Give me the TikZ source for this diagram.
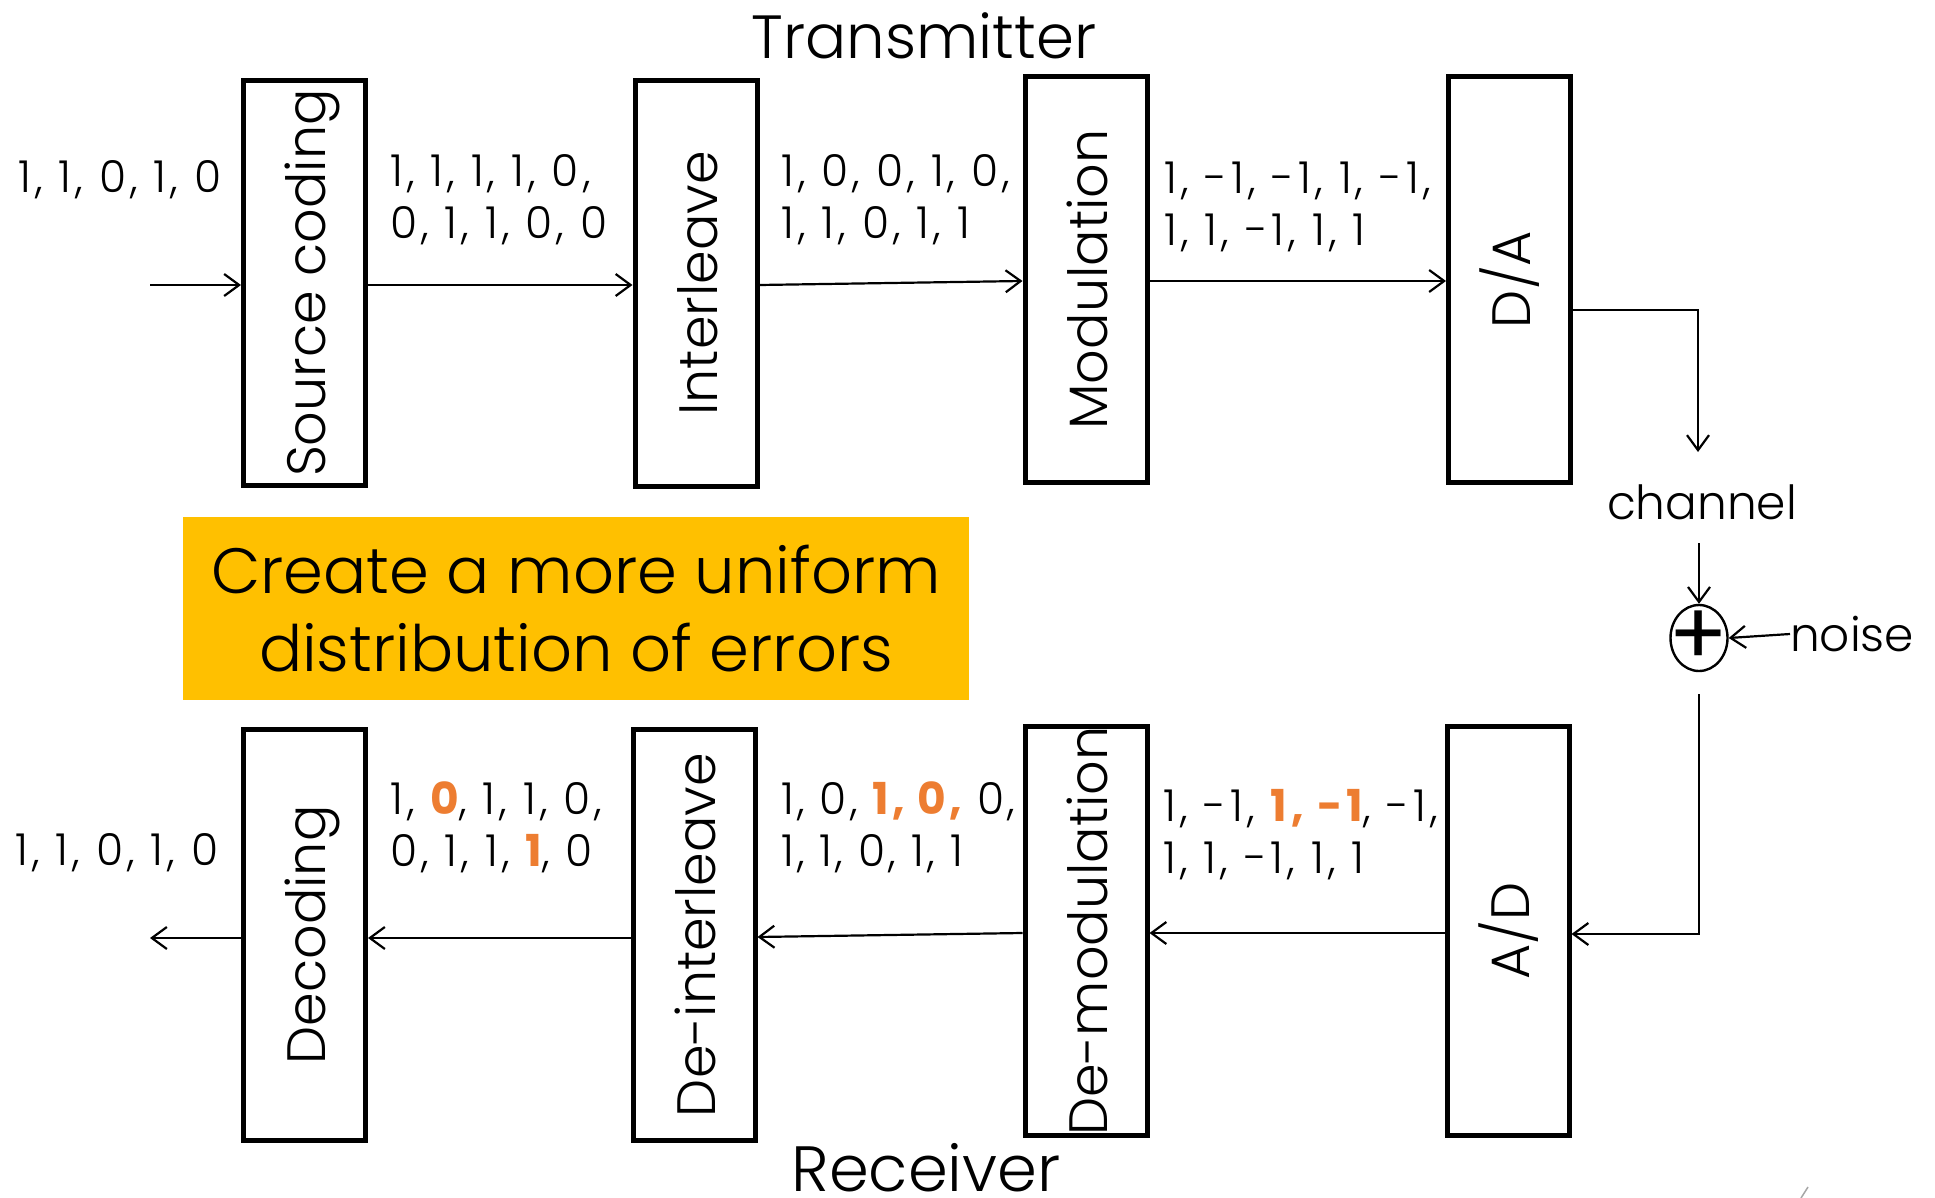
\documentclass[tikz,border=0pt]{standalone}
\usepackage{fontspec}
\setmainfont{Poppins}[UprightFont=* Light, BoldFont=* Bold]
\newfontfamily\plusfont{Poppins}
\usetikzlibrary{arrows.meta,shapes.geometric,calc}
\definecolor{errorange}{RGB}{237,125,49}
\definecolor{notegold}{RGB}{255,192,0}
\newcommand{\er}[1]{\textcolor{errorange}{\bfseries #1}}
\begin{document}
\begin{tikzpicture}[x=1pt,y=-1pt,
  blk/.style={draw, line width=5pt, minimum width=122pt, minimum height=405pt, inner sep=0pt},
  lbl/.style={rotate=90, anchor=base, inner sep=0pt, font=\fontsize{54}{58}\selectfont},
  bits/.style={anchor=west, align=left, inner sep=0pt,
    font=\fontsize{44}{52}\selectfont\addfontfeatures{LetterSpace=9}},
  title/.style={anchor=base, inner sep=0pt},
  small/.style={inner sep=0pt, font=\fontsize{47}{50}\selectfont},
  arr/.style={line width=2.2pt, -{Straight Barb[length=15pt,width=22pt,line width=2.2pt]}},
  ln/.style={line width=2.2pt}]
\useasboundingbox (0,0) rectangle (1935,1198);
\fill[white] (0,0) rectangle (1935,1198);

% titles
\node[title, font=\fontsize{61}{66}\selectfont] (tx) at (924,59) {Transmitter};
\node[title, font=\fontsize{64}{68}\selectfont] (rx) at (926,1191) {Receiver};

% transmitter blocks
\node[blk] (src) at (304.5,283) {};
\node[blk] (ilv) at (696,283.5) {};
\node[blk] (mod) at (1086,279.5) {};
\node[blk] (da)  at (1509.5,279.5) {};
\node[lbl] (srcL) at ($(src.center)+(21,0)$) {Source coding};
\node[lbl] (ilvL) at ($(ilv.center)+(21,0)$) {Interleave};
\node[lbl] (modL) at ($(mod.center)+(21,0)$) {Modulation};
\node[lbl] (daL)  at ($(da.center)+(21,0)$) {D/A};

% receiver blocks
\node[blk, minimum height=411pt] (dec)  at (304.5,935) {};
\node[blk, minimum height=411pt] (dilv) at (694,935) {};
\node[blk, minimum height=409pt] (dmod) at (1086,931) {};
\node[blk, minimum height=409pt] (ad)   at (1508,931) {};
\node[lbl] (decL)  at ($(dec.center)+(21,0)$) {Decoding};
\node[lbl] (dilvL) at ($(dilv.center)+(21,0)$) {De-interleave};
\node[lbl] (dmodL) at ($(dmod.center)+(21,0)$) {De-modulation};
\node[lbl] (adL)   at ($(ad.center)+(21,0)$) {A/D};

% bit sequences
\node[bits] (b1) at (18,180) {1, 1, 0, 1, 0};
\node[bits] (b2) at (390,200) {1, 1, 1, 1, 0,\\0, 1, 1, 0, 0};
\node[bits] (b3) at (781,200) {1, 0, 0, 1, 0,\\1, 1, 0, 1, 1};
\node[bits] (b4) at (1164,207) {1, -1, -1, 1, -1,\\1, 1, -1, 1, 1};
\node[bits] (b5) at (15,853) {1, 1, 0, 1, 0};
\node[bits] (b6) at (390,827) {1, \er{0}, 1, 1, 0,\\0, 1, 1, \er{1}, 0};
\node[bits, font=\fontsize{44}{52}\selectfont\addfontfeatures{LetterSpace=7}] (b7) at (781,827)
  {1, 0, \er{1, 0,} 0,\\1, 1, 0, 1, 1};
\node[bits] (b8) at (1163,835) {1, -1, \er{1, -1}, -1,\\1, 1, -1, 1, 1};

% note
\node[fill=notegold, minimum width=786pt, minimum height=183pt, inner sep=0pt,
      align=center, font=\fontsize{64}{78}\selectfont] (note) at (576,608.5)
      {Create a more uniform\\distribution of errors};

% channel part
\node[small] (ch) at (1702,502) {channel};
\node[draw, ellipse, line width=2.4pt, minimum width=57pt, minimum height=66pt,
      inner sep=0pt] (sum) at (1699,638) {};
\node[inner sep=0pt, font=\plusfont\fontsize{88}{88}\selectfont] (plus) at (sum.center) {+};
\node[small, anchor=west] (noise) at (1790,634) {noise};
\coordinate (inL) at (150,285);
\coordinate (outL) at (150,938);
\coordinate (chin) at (1698,452);
\coordinate (chout) at (1699,543);
\coordinate (sumout) at (1699,694);

% connectors
\draw[arr] (inL) -- (src.west |- inL);
\draw[arr] (src.east |- inL) -- (ilv.west |- inL);
\draw[arr] (ilv.east |- inL) -- (mod.west |- 0,281);
\draw[arr] (mod.east |- 0,281) -- (da.west |- 0,281);
\draw[arr] (da.east |- 0,310) -| (chin);
\draw[arr] (chout) -- (sum.north);
\draw[arr] (noise.west) -- (sum.east);
\draw[arr] (sumout) |- (ad.east |- 0,934);
\draw[arr] (ad.west |- 0,933) -- (dmod.east |- 0,933);
\draw[arr] (dmod.west |- 0,933) -- (dilv.east |- 0,937);
\draw[arr] (dilv.west |- outL) -- (dec.east |- outL);
\draw[arr] (dec.west |- outL) -- (outL);

% small mark
\draw[gray!70, line width=1.5pt] (1801,1198) -- (1808,1187);
\end{tikzpicture}
\end{document}
